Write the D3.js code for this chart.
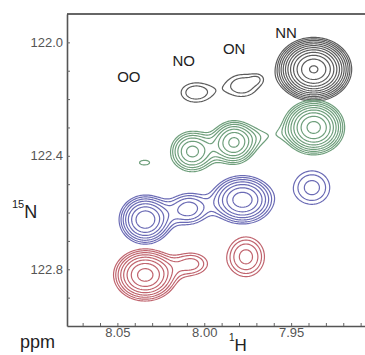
<!DOCTYPE html>
<html>
<head>
<meta charset="utf-8">
<script src="https://cdn.jsdelivr.net/npm/d3@7"></script>
<style>
  body { margin: 0; background: #fff; }
  text { font-family: "Liberation Sans", Arial, Helvetica, sans-serif; }
</style>
</head>
<body>
<svg id="chart" width="365" height="355"></svg>
<script>
// peaks: [1H ppm, 15N ppm, height, 1H width, 15N width]
var peaksBlack = [
  [7.937, 122.095, 12.0, 0.0098, 0.0505],
  [7.978, 122.152, 1.5, 0.0092, 0.042],
  [7.969, 122.127, 0.5, 0.0034, 0.018],
  [8.005, 122.177, 1.5, 0.0092, 0.037]
];
var peaksGreen = [
  [7.937, 122.300, 6.5, 0.0092, 0.050],
  [7.983, 122.353, 4.0, 0.0075, 0.046],
  [7.966, 122.332, 0.8, 0.0075, 0.035],
  [8.007, 122.385, 3.3, 0.0080, 0.046],
  [8.0345, 122.424, 1.1, 0.0063, 0.018],
  [7.957, 122.322, 0.15, 0.0046, 0.021]
];
var peaksBlue = [
  [7.938, 122.512, 1.72, 0.0098, 0.0565],
  [7.978, 122.555, 4.4, 0.0103, 0.0495],
  [8.009, 122.587, 2.2, 0.0080, 0.042],
  [8.034, 122.625, 4.6, 0.0086, 0.0495]
];
var peaksRed = [
  [7.976, 122.756, 2.15, 0.0086, 0.0565],
  [8.007, 122.781, 1.7, 0.0080, 0.035],
  [8.034, 122.820, 5.25, 0.0100, 0.0505]
];
var spectrumColors = ["#5c5c5c", "#6f9f7c", "#6b6bb5", "#c0646e"];

var peakLabels = ["OO", "NO", "ON", "NN"];
var labelH = [8.0434, 8.0118, 7.9828, 7.9529];
var labelN = [122.141, 122.085, 122.042, 121.986];

var xTicks = [8.07, 8.06, 8.05, 8.04, 8.03, 8.02, 8.01, 8.00, 7.99, 7.98, 7.97, 7.96, 7.95, 7.94, 7.93, 7.92, 7.91];
var xTickLabels = [8.05, 8.00, 7.95];
var yTicks = [122.0, 122.1, 122.2, 122.3, 122.4, 122.5, 122.6, 122.7, 122.8, 122.9];
var yTickLabels = [122.0, 122.4, 122.8];

var svg = d3.select("#chart");

var x = d3.scaleLinear().domain([8.079, 7.90]).range([67, 378]);
var y = d3.scaleLinear().domain([121.9, 123.0]).range([14, 326]);

var x0 = x.range()[0], x1 = x.range()[1];
var y0 = y.range()[0], y1 = y.range()[1];

svg.append("clipPath").attr("id", "plot")
  .append("rect")
  .attr("x", x0).attr("y", y0)
  .attr("width", x1 - x0).attr("height", y1 - y0);

// contour levels, factor 1.25 like a normal spectrum plot
var levels = d3.range(16).map(function (k) { return Math.pow(1.25, k); });

var field = function (peaks, h, n) {
  var v = 0;
  peaks.forEach(function (p) {
    var dh = (h - p[0]) / p[3], dn = (n - p[1]) / p[4];
    v += p[2] * Math.exp(-0.5 * (dh * dh + dn * dn));
  });
  return v;
};

var step = 1;
var nx = Math.ceil((x1 - x0) / step) + 1;
var ny = Math.ceil((y1 - y0) / step) + 1;

var toPixels = d3.geoPath(d3.geoTransform({
  point: function (px, py) {
    this.stream.point(x0 + (px - 0.5) * step, y0 + (py - 0.5) * step);
  }
}));

var spectra = [peaksBlack, peaksGreen, peaksBlue, peaksRed];

var cg = svg.append("g").attr("clip-path", "url(#plot)");

spectra.forEach(function (peaks, si) {
  var values = new Float64Array(nx * ny);
  for (var j = 0; j < ny; j++) {
    var n = y.invert(y0 + j * step);
    for (var i = 0; i < nx; i++) {
      values[j * nx + i] = field(peaks, x.invert(x0 + i * step), n);
    }
  }
  var cs = d3.contours().size([nx, ny]).thresholds(levels)(values);
  cg.selectAll(null)
    .data(cs)
    .enter()
    .append("path")
    .attr("d", toPixels)
    .attr("fill", "none")
    .attr("stroke", spectrumColors[si])
    .attr("stroke-width", 1.2)
    .attr("stroke-linejoin", "round");
});

// axes
var fmtY = d3.format(".1f"), fmtX = d3.format(".2f");

var yAxis = d3.axisLeft(y)
  .tickValues(yTicks)
  .tickSizeInner(-3).tickSizeOuter(0)
  .tickPadding(4)
  .tickFormat(function (d) {
    return yTickLabels.some(function (t) { return Math.abs(t - d) < 1e-6; }) ? fmtY(d) : "";
  });

var xAxis = d3.axisBottom(x)
  .tickValues(xTicks)
  .tickSizeInner(-3).tickSizeOuter(0)
  .tickPadding(2)
  .tickFormat(function (d) {
    return xTickLabels.some(function (t) { return Math.abs(t - d) < 1e-6; }) ? fmtX(d) : "";
  });

var gy = svg.append("g").attr("transform", "translate(" + x0 + ",0)").call(yAxis);
var gx = svg.append("g").attr("transform", "translate(0," + y1 + ")").call(xAxis);

[gx, gy].forEach(function (g) {
  g.select(".domain").attr("stroke", "#555").attr("stroke-width", 1.6);
  g.selectAll(".tick line").attr("stroke", "#666");
  g.selectAll(".tick text")
    .attr("fill", "#555")
    .style("font-size", "13px")
    .style("font-family", "'Liberation Sans', Arial, sans-serif");
});

// top frame line
svg.append("line")
  .attr("x1", x0).attr("x2", x1)
  .attr("y1", y0).attr("y2", y0)
  .attr("stroke", "#333").attr("stroke-width", 1.6);

// peak labels
svg.selectAll(".plabel")
  .data(peakLabels)
  .enter()
  .append("text")
  .attr("class", "plabel")
  .attr("x", function (d, i) { return x(labelH[i]); })
  .attr("y", function (d, i) { return y(labelN[i]); })
  .attr("text-anchor", "middle")
  .attr("fill", "#222")
  .style("font-size", "15px")
  .text(function (d) { return d; });

// axis titles
svg.append("text")
  .attr("x", 20).attr("y", 348)
  .attr("fill", "#222")
  .style("font-size", "18px")
  .text("ppm");

var hTitle = svg.append("text")
  .attr("x", 229).attr("y", 351)
  .attr("fill", "#222")
  .style("font-size", "17px");
hTitle.append("tspan").attr("dy", -10).style("font-size", "10px").text("1");
hTitle.append("tspan").attr("dy", 10).text("H");

var nTitle = svg.append("text")
  .attr("x", 12).attr("y", 218)
  .attr("fill", "#222")
  .style("font-size", "18px");
nTitle.append("tspan").attr("dy", -10).style("font-size", "11px").text("15");
nTitle.append("tspan").attr("dy", 10).text("N");
</script>
</body>
</html>
